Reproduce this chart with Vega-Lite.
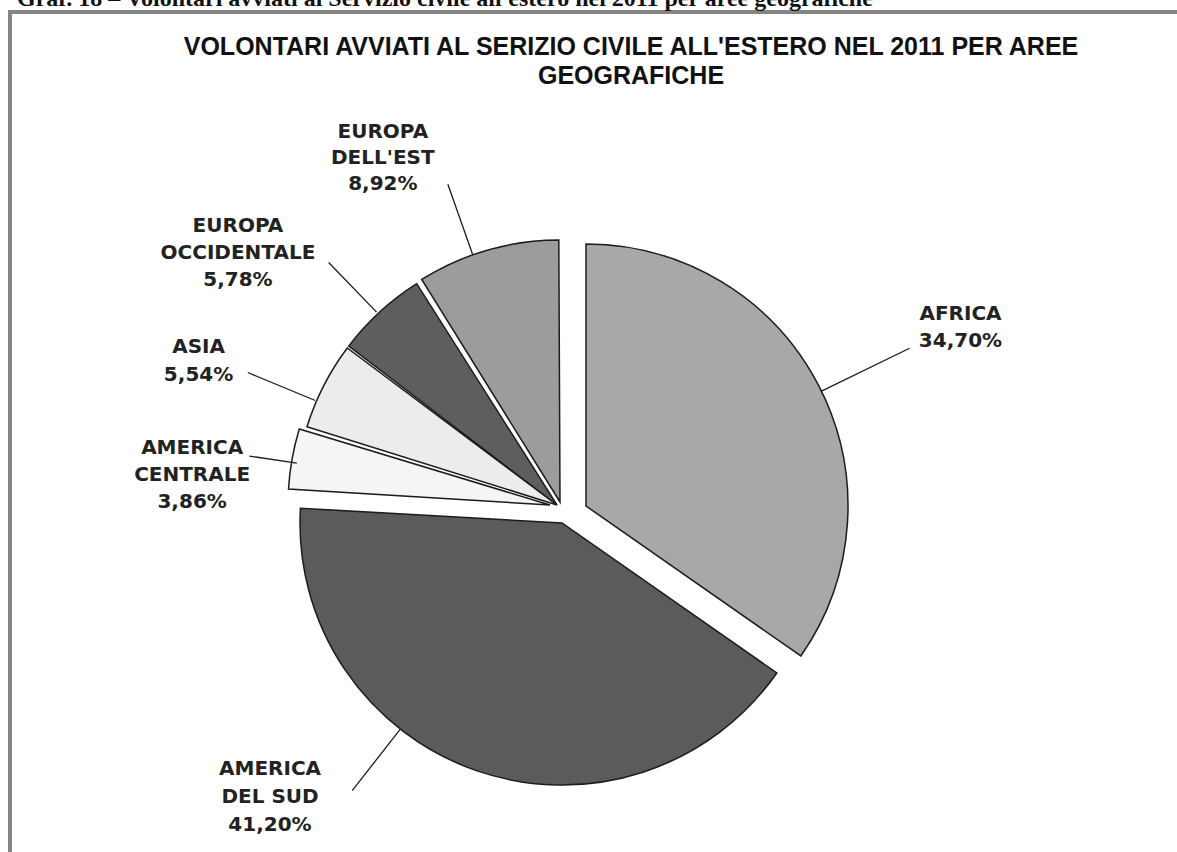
{
  "$schema": "https://vega.github.io/schema/vega-lite/v6.json",
  "width": 1172,
  "height": 845,
  "autosize": {"type": "none"},
  "padding": {"left": 10, "top": 12, "right": -5, "bottom": -5},
  "background": "white",
  "view": {"stroke": "#858585", "strokeWidth": 4, "fill": "white"},
  "title": {
    "text": ["VOLONTARI AVVIATI AL SERIZIO CIVILE ALL'ESTERO NEL 2011 PER AREE", "GEOGRAFICHE"],
    "anchor": "middle",
    "frame": "group",
    "offset": -102,
    "dx": 35,
    "font": "Liberation Sans",
    "fontSize": 25,
    "fontWeight": "bold",
    "lineHeight": 29,
    "color": "#111111"
  },
  "data": {
    "values": [
      {"area": "Africa", "label": "AFRICA\n34,70%", "pct": 34.70, "ord": 1},
      {"area": "America del Sud", "label": "AMERICA\nDEL SUD\n41,20%", "pct": 41.20, "ord": 2},
      {"area": "America centrale", "label": "AMERICA\nCENTRALE\n3,86%", "pct": 3.86, "ord": 3},
      {"area": "Asia", "label": "ASIA\n5,54%", "pct": 5.54, "ord": 4},
      {"area": "Europa occidentale", "label": "EUROPA\nOCCIDENTALE\n5,78%", "pct": 5.78, "ord": 5},
      {"area": "Europa dell'est", "label": "EUROPA\nDELL'EST\n8,92%", "pct": 8.92, "ord": 6}
    ]
  },
  "layer": [
    {
      "mark": {"type": "arc", "radius": 262, "padAngle": 0.009, "stroke": "#1c1c1c", "strokeWidth": 1.5, "xOffset": -36, "yOffset": 67.5},
      "encoding": {
        "theta": {"field": "pct", "type": "quantitative", "stack": true},
        "order": {"field": "ord", "type": "quantitative"},
        "color": {"field": "area", "type": "nominal", "legend": null,
          "scale": {"domain": ["Africa", "America del Sud", "America centrale", "Asia", "Europa occidentale", "Europa dell'est"],
                    "range": ["#a8a8a8", "#5b5b5b", "#f5f5f5", "#ececec", "#5e5e5e", "#9c9c9c"]}},
        "opacity": {"condition": {"test": "datum.ord === 6", "value": 1}, "value": 0}
      }
    },
    {
      "mark": {"type": "arc", "radius": 262, "padAngle": 0.009, "stroke": "#1c1c1c", "strokeWidth": 1.5, "xOffset": -39, "yOffset": 70.5},
      "encoding": {
        "theta": {"field": "pct", "type": "quantitative", "stack": true},
        "order": {"field": "ord", "type": "quantitative"},
        "color": {"field": "area", "type": "nominal", "legend": null},
        "opacity": {"condition": {"test": "datum.ord === 4 || datum.ord === 5", "value": 1}, "value": 0}
      }
    },
    {
      "mark": {"type": "arc", "radius": 262, "padAngle": 0.009, "stroke": "#1c1c1c", "strokeWidth": 1.5, "xOffset": -46, "yOffset": 70.5},
      "encoding": {
        "theta": {"field": "pct", "type": "quantitative", "stack": true},
        "order": {"field": "ord", "type": "quantitative"},
        "color": {"field": "area", "type": "nominal", "legend": null},
        "opacity": {"condition": {"test": "datum.ord === 3", "value": 1}, "value": 0}
      }
    },
    {
      "mark": {"type": "arc", "radius": 262, "stroke": "#1c1c1c", "strokeWidth": 1.5, "xOffset": -10, "yOffset": 71.5},
      "encoding": {
        "theta": {"field": "pct", "type": "quantitative", "stack": true},
        "order": {"field": "ord", "type": "quantitative"},
        "color": {"field": "area", "type": "nominal", "legend": null},
        "opacity": {"condition": {"test": "datum.ord === 1", "value": 1}, "value": 0}
      }
    },
    {
      "mark": {"type": "arc", "radius": 262, "stroke": "#1c1c1c", "strokeWidth": 1.5, "xOffset": -34, "yOffset": 88.5},
      "encoding": {
        "theta": {"field": "pct", "type": "quantitative", "stack": true},
        "order": {"field": "ord", "type": "quantitative"},
        "color": {"field": "area", "type": "nominal", "legend": null},
        "opacity": {"condition": {"test": "datum.ord === 2", "value": 1}, "value": 0}
      }
    },
    {
      "mark": {"type": "arc", "radius": 360, "radius2": 262, "padAngle": 3, "thetaOffset": 0.027, "fill": "transparent", "stroke": "#1c1c1c", "strokeWidth": 1.3, "xOffset": -10, "yOffset": 71.5},
      "encoding": {
        "theta": {"field": "pct", "type": "quantitative", "stack": true},
        "order": {"field": "ord", "type": "quantitative"},
        "opacity": {"condition": {"test": "datum.ord === 1", "value": 1}, "value": 0}
      }
    },
    {
      "mark": {"type": "arc", "radius": 340, "radius2": 262, "padAngle": 3, "thetaOffset": 0.332, "fill": "transparent", "stroke": "#1c1c1c", "strokeWidth": 1.3, "xOffset": -34, "yOffset": 88.5},
      "encoding": {
        "theta": {"field": "pct", "type": "quantitative", "stack": true},
        "order": {"field": "ord", "type": "quantitative"},
        "opacity": {"condition": {"test": "datum.ord === 2", "value": 1}, "value": 0}
      }
    },
    {
      "mark": {"type": "arc", "radius": 314, "radius2": 266, "padAngle": 3, "thetaOffset": -0.031, "fill": "transparent", "stroke": "#1c1c1c", "strokeWidth": 1.3, "xOffset": -36, "yOffset": 67.5},
      "encoding": {
        "theta": {"field": "pct", "type": "quantitative", "stack": true},
        "order": {"field": "ord", "type": "quantitative"},
        "opacity": {"condition": {"test": "datum.ord === 3", "value": 1}, "value": 0}
      }
    },
    {
      "mark": {"type": "arc", "radius": 338, "radius2": 265, "padAngle": 3, "thetaOffset": -0.08, "fill": "transparent", "stroke": "#1c1c1c", "strokeWidth": 1.3, "xOffset": -36, "yOffset": 67.5},
      "encoding": {
        "theta": {"field": "pct", "type": "quantitative", "stack": true},
        "order": {"field": "ord", "type": "quantitative"},
        "opacity": {"condition": {"test": "datum.ord === 4", "value": 1}, "value": 0}
      }
    },
    {
      "mark": {"type": "arc", "radius": 333, "radius2": 264, "padAngle": 3, "thetaOffset": -0.026, "fill": "transparent", "stroke": "#1c1c1c", "strokeWidth": 1.3, "xOffset": -36, "yOffset": 67.5},
      "encoding": {
        "theta": {"field": "pct", "type": "quantitative", "stack": true},
        "order": {"field": "ord", "type": "quantitative"},
        "opacity": {"condition": {"test": "datum.ord === 5", "value": 1}, "value": 0}
      }
    },
    {
      "mark": {"type": "arc", "radius": 337, "radius2": 262, "padAngle": 3, "thetaOffset": -0.059, "fill": "transparent", "stroke": "#1c1c1c", "strokeWidth": 1.3, "xOffset": -36, "yOffset": 67.5},
      "encoding": {
        "theta": {"field": "pct", "type": "quantitative", "stack": true},
        "order": {"field": "ord", "type": "quantitative"},
        "opacity": {"condition": {"test": "datum.ord === 6", "value": 1}, "value": 0}
      }
    },
    {
      "mark": {"type": "text", "radius": 437, "thetaOffset": 0.069, "dy": -13.5, "font": "DejaVu Sans", "fontWeight": "bold", "fontSize": 20, "lineBreak": "\n", "lineHeight": 27, "align": "center", "baseline": "middle", "fill": "#222222", "xOffset": -36, "yOffset": 67.5},
      "encoding": {
        "theta": {"field": "pct", "type": "quantitative", "stack": true},
        "order": {"field": "ord", "type": "quantitative"},
        "text": {"field": "label", "type": "nominal"},
        "opacity": {"condition": {"test": "datum.ord === 1", "value": 1}, "value": 0}
      }
    },
    {
      "mark": {"type": "text", "radius": 414, "thetaOffset": 0.443, "dy": -28, "font": "DejaVu Sans", "fontWeight": "bold", "fontSize": 20, "lineBreak": "\n", "lineHeight": 28, "align": "center", "baseline": "middle", "fill": "#222222", "xOffset": -36, "yOffset": 67.5},
      "encoding": {
        "theta": {"field": "pct", "type": "quantitative", "stack": true},
        "order": {"field": "ord", "type": "quantitative"},
        "text": {"field": "label", "type": "nominal"},
        "opacity": {"condition": {"test": "datum.ord === 2", "value": 1}, "value": 0}
      }
    },
    {
      "mark": {"type": "text", "radius": 369, "thetaOffset": -0.099, "dy": -25, "font": "DejaVu Sans", "fontWeight": "bold", "fontSize": 20, "lineBreak": "\n", "lineHeight": 27, "align": "center", "baseline": "middle", "fill": "#222222", "xOffset": -36, "yOffset": 67.5},
      "encoding": {
        "theta": {"field": "pct", "type": "quantitative", "stack": true},
        "order": {"field": "ord", "type": "quantitative"},
        "text": {"field": "label", "type": "nominal"},
        "opacity": {"condition": {"test": "datum.ord === 3", "value": 1}, "value": 0}
      }
    },
    {
      "mark": {"type": "text", "radius": 388, "thetaOffset": -0.101, "dy": -14, "font": "DejaVu Sans", "fontWeight": "bold", "fontSize": 20, "lineBreak": "\n", "lineHeight": 28, "align": "center", "baseline": "middle", "fill": "#222222", "xOffset": -36, "yOffset": 67.5},
      "encoding": {
        "theta": {"field": "pct", "type": "quantitative", "stack": true},
        "order": {"field": "ord", "type": "quantitative"},
        "text": {"field": "label", "type": "nominal"},
        "opacity": {"condition": {"test": "datum.ord === 4", "value": 1}, "value": 0}
      }
    },
    {
      "mark": {"type": "text", "radius": 407, "thetaOffset": -0.171, "dy": -27, "font": "DejaVu Sans", "fontWeight": "bold", "fontSize": 20, "lineBreak": "\n", "lineHeight": 27, "align": "center", "baseline": "middle", "fill": "#222222", "xOffset": -36, "yOffset": 67.5},
      "encoding": {
        "theta": {"field": "pct", "type": "quantitative", "stack": true},
        "order": {"field": "ord", "type": "quantitative"},
        "text": {"field": "label", "type": "nominal"},
        "opacity": {"condition": {"test": "datum.ord === 5", "value": 1}, "value": 0}
      }
    },
    {
      "mark": {"type": "text", "radius": 388, "thetaOffset": -0.194, "dy": -25, "font": "DejaVu Sans", "fontWeight": "bold", "fontSize": 20, "lineBreak": "\n", "lineHeight": 26, "align": "center", "baseline": "middle", "fill": "#222222", "xOffset": -36, "yOffset": 67.5},
      "encoding": {
        "theta": {"field": "pct", "type": "quantitative", "stack": true},
        "order": {"field": "ord", "type": "quantitative"},
        "text": {"field": "label", "type": "nominal"},
        "opacity": {"condition": {"test": "datum.ord === 6", "value": 1}, "value": 0}
      }
    },
    {
      "data": {"values": [{"caption": "Graf. 18 – Volontari avviati al Servizio civile all'estero nel 2011 per aree geografiche"}]},
      "mark": {"type": "text", "x": 7, "y": -6, "align": "left", "baseline": "alphabetic", "font": "Liberation Serif", "fontWeight": "bold", "fontSize": 24, "fill": "#111111"},
      "encoding": {"text": {"field": "caption", "type": "nominal"}}
    }
  ]
}
